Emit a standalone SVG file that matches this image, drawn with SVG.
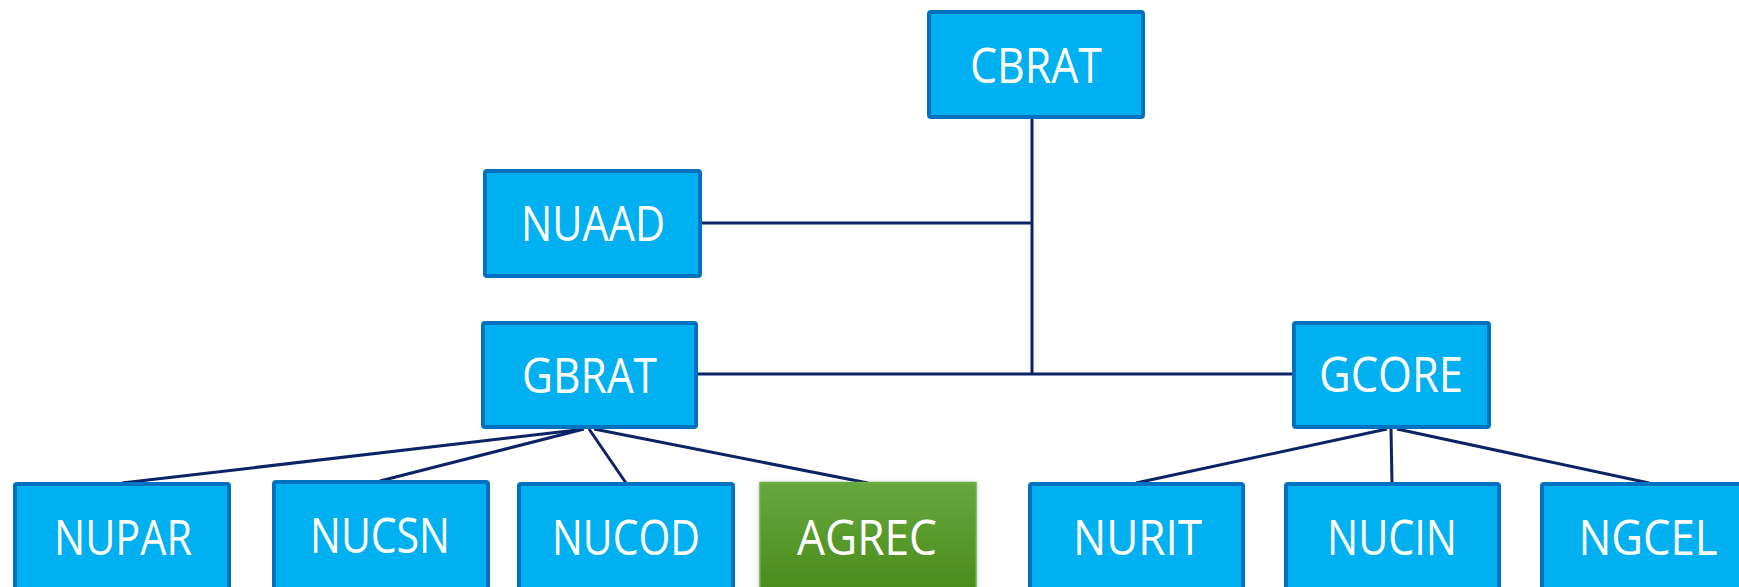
<svg xmlns="http://www.w3.org/2000/svg" width="1739" height="587" viewBox="0 0 1739 587">
<style>
.box{fill:#00b0f0;stroke:#0070c0;stroke-width:4}
.lbl{fill:#ffffff;font-family:"Open Sans","Noto Sans",sans-serif;font-size:50px;text-anchor:middle}
.con{stroke:#0c2466;stroke-width:3;fill:none}
</style>
<defs>
<linearGradient id="green" x1="0" y1="0" x2="0" y2="1">
<stop offset="0" stop-color="#66a83f"/>
<stop offset="1" stop-color="#4a8b1a"/>
</linearGradient>
<filter id="sh" x="-10%" y="-10%" width="120%" height="130%">
<feDropShadow dx="0" dy="1" stdDeviation="2" flood-color="#000" flood-opacity="0.25"/>
</filter>
</defs>
<rect width="1739" height="587" fill="#ffffff"/>
<g id="connectors">
<line class="con" x1="1032" y1="118" x2="1032" y2="374"/>
<line class="con" x1="702" y1="223" x2="1032" y2="223"/>
<line class="con" x1="698" y1="374" x2="1292" y2="374"/>
<line class="con" x1="577" y1="430" x2="122" y2="483"/>
<line class="con" x1="584" y1="429" x2="380" y2="481"/>
<line class="con" x1="589" y1="429" x2="626" y2="483"/>
<line class="con" x1="594" y1="429" x2="868" y2="483"/>
<line class="con" x1="1387" y1="429" x2="1136" y2="483"/>
<line class="con" x1="1391" y1="429" x2="1392" y2="483"/>
<line class="con" x1="1397" y1="429" x2="1649" y2="483"/>
</g>
<g id="CBRAT"><rect class="box" x="929" y="12" width="214" height="105" rx="2"/><text class="lbl" x="1036" y="83" textLength="132" lengthAdjust="spacingAndGlyphs">CBRAT</text></g>
<g id="NUAAD"><rect class="box" x="485" y="171" width="215" height="105" rx="2"/><text class="lbl" x="593" y="241" textLength="144" lengthAdjust="spacingAndGlyphs">NUAAD</text></g>
<g id="GBRAT"><rect class="box" x="483" y="323" width="213" height="104" rx="2"/><text class="lbl" x="589.5" y="393" textLength="135" lengthAdjust="spacingAndGlyphs">GBRAT</text></g>
<g id="GCORE"><rect class="box" x="1294" y="323" width="195" height="104" rx="2"/><text class="lbl" x="1391" y="392" textLength="144" lengthAdjust="spacingAndGlyphs">GCORE</text></g>
<g id="NUPAR"><rect class="box" x="15" y="484" width="214" height="110" rx="2"/><text class="lbl" x="123" y="555" textLength="138" lengthAdjust="spacingAndGlyphs">NUPAR</text></g>
<g id="NUCSN"><rect class="box" x="274" y="482" width="214" height="112" rx="2"/><text class="lbl" x="380" y="553" textLength="140" lengthAdjust="spacingAndGlyphs">NUCSN</text></g>
<g id="NUCOD"><rect class="box" x="519" y="484" width="214" height="110" rx="2"/><text class="lbl" x="626" y="555" textLength="148" lengthAdjust="spacingAndGlyphs">NUCOD</text></g>
<g id="AGREC"><rect x="760" y="482.5" width="216" height="110" fill="url(#green)" stroke="#6cae45" stroke-width="1.5" filter="url(#sh)"/><text class="lbl" x="867" y="555" textLength="140" lengthAdjust="spacingAndGlyphs">AGREC</text></g>
<g id="NURIT"><rect class="box" x="1030" y="484" width="213" height="110" rx="2"/><text class="lbl" x="1137.5" y="555" textLength="129" lengthAdjust="spacingAndGlyphs">NURIT</text></g>
<g id="NUCIN"><rect class="box" x="1286" y="484" width="213" height="110" rx="2"/><text class="lbl" x="1392" y="555" textLength="130" lengthAdjust="spacingAndGlyphs">NUCIN</text></g>
<g id="NGCEL"><rect class="box" x="1542" y="484" width="214" height="110" rx="2"/><text class="lbl" x="1648" y="555" textLength="139" lengthAdjust="spacingAndGlyphs">NGCEL</text></g>
</svg>
